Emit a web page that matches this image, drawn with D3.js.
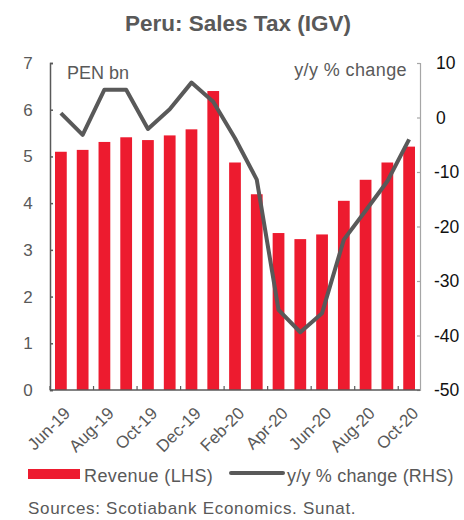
<!DOCTYPE html>
<html>
<head>
<meta charset="utf-8">
<script src="https://cdn.jsdelivr.net/npm/d3@7"></script>
<style>
  body { margin: 0; background: #fff; }
  text { font-family: "Liberation Sans", Arial, sans-serif; }
</style>
</head>
<body>
<script>
var months = ["Jun-19","Jul-19","Aug-19","Sep-19","Oct-19","Nov-19","Dec-19","Jan-20",
  "Feb-20","Mar-20","Apr-20","May-20","Jun-20","Jul-20","Aug-20","Sep-20","Oct-20"];
var revenue = [5.10, 5.14, 5.31, 5.41, 5.35, 5.45, 5.58, 6.40, 4.87, 4.19, 3.36, 3.23, 3.33, 4.05, 4.50, 4.87, 5.21];
var yoy = [0.8, -3.2, 5.1, 5.1, -2.1, 1.5, 6.4, 2.9, -3.8, -11.4, -35.3, -39.4, -35.9, -22.4, -17.1, -11.7, -4.0];
var leftTicks = [0, 1, 2, 3, 4, 5, 6, 7];
var rightTicks = [10, 0, -10, -20, -30, -40, -50];

var svgW = 464, svgH = 520;
var plot = { left: 50, right: 420, top: 63, bottom: 390 };

var red = "#ed1b2f", grey = "#595959";

var svg = d3.select("body").append("svg")
  .attr("width", svgW)
  .attr("height", svgH);

// title
svg.append("text")
  .attr("x", 238).attr("y", 31)
  .attr("text-anchor", "middle")
  .attr("font-size", 22.5).attr("font-weight", "bold")
  .attr("fill", grey)
  .text("Peru: Sales Tax (IGV)");

var x = d3.scaleBand()
  .domain(months)
  .range([plot.left, plot.right])
  .paddingInner(0.46).paddingOuter(0.23);

var yL = d3.scaleLinear().domain([0, 7]).range([plot.bottom, plot.top]);
var yR = d3.scaleLinear().domain([-50, 10]).range([plot.bottom, plot.top]);

// bars
svg.selectAll("rect.bar")
  .data(revenue)
  .enter().append("rect")
  .attr("class", "bar")
  .attr("x", function (d, i) { return x(months[i]); })
  .attr("y", function (d) { return yL(d); })
  .attr("width", x.bandwidth())
  .attr("height", function (d) { return yL(0) - yL(d); })
  .attr("fill", red);

// line
var line = d3.line()
  .x(function (d, i) { return x(months[i]) + x.bandwidth() / 2; })
  .y(function (d) { return yR(d); });

svg.append("path")
  .datum(yoy)
  .attr("d", line)
  .attr("fill", "none")
  .attr("stroke", grey)
  .attr("stroke-width", 4)
  .attr("stroke-linejoin", "round");

var plain = function (d) { return String(d); };

// left axis
var leftAxis = svg.append("g")
  .attr("transform", "translate(" + plot.left + ",0)")
  .call(d3.axisRight(yL).tickValues(leftTicks).tickSize(3).tickFormat(plain));
leftAxis.select(".domain").attr("stroke", grey).attr("stroke-width", 1.5);
leftAxis.selectAll(".tick line").attr("stroke", grey).attr("stroke-width", 1.5);
leftAxis.selectAll(".tick text")
  .attr("x", -22).attr("text-anchor", "middle")
  .attr("font-size", 17).attr("fill", grey);

// right axis
var rightAxis = svg.append("g")
  .attr("transform", "translate(" + plot.right + ",0)")
  .call(d3.axisLeft(yR).tickValues(rightTicks).tickSize(3).tickFormat(plain));
rightAxis.select(".domain").attr("stroke", "#a6a6a6").attr("stroke-width", 1.2);
rightAxis.selectAll(".tick line").attr("stroke", "#a6a6a6").attr("stroke-width", 1.2);
rightAxis.selectAll(".tick text")
  .attr("x", function (d) { return d < 0 ? 14 : 16; })
  .attr("text-anchor", "start")
  .attr("font-size", 17.5).attr("fill", "#111");

// bottom axis: ticks every two months at band boundaries, labels at odd months
var step = x.step();
var tickPos = d3.range(0, months.length + 1, 2).map(function (i) { return plot.left + i * step; });
var bottom = svg.append("g");
bottom.append("line")
  .attr("x1", plot.left).attr("x2", plot.right)
  .attr("y1", plot.bottom).attr("y2", plot.bottom)
  .attr("stroke", grey).attr("stroke-width", 1.5);
bottom.selectAll("line.tk")
  .data(tickPos)
  .enter().append("line")
  .attr("class", "tk")
  .attr("x1", function (d) { return d; }).attr("x2", function (d) { return d; })
  .attr("y1", plot.bottom).attr("y2", plot.bottom - 4)
  .attr("stroke", grey).attr("stroke-width", 1.2);
bottom.selectAll("text")
  .data(months.filter(function (d, i) { return i % 2 === 0; }))
  .enter().append("text")
  .attr("transform", function (d) {
    return "translate(" + (x(d) + x.bandwidth() / 2 + 2) + "," + (plot.bottom + 16) + ") rotate(-45)";
  })
  .attr("text-anchor", "end")
  .attr("dy", "0.7em")
  .attr("font-size", 17)
  .attr("fill", grey)
  .text(function (d) { return d; });

// axis captions
svg.append("text")
  .attr("x", 67).attr("y", 79)
  .attr("font-size", 18).attr("fill", grey)
  .text("PEN bn");
svg.append("text")
  .attr("x", 407).attr("y", 76)
  .attr("text-anchor", "end")
  .attr("font-size", 18).attr("letter-spacing", 0.4).attr("fill", grey)
  .text("y/y % change");

// legend
var legend = svg.append("g");
legend.append("rect")
  .attr("x", 28).attr("y", 469).attr("width", 52).attr("height", 10)
  .attr("fill", red);
legend.append("text")
  .attr("x", 84).attr("y", 482)
  .attr("font-size", 18).attr("letter-spacing", 0.4).attr("fill", grey)
  .text("Revenue (LHS)");
legend.append("line")
  .attr("x1", 231).attr("x2", 283).attr("y1", 473).attr("y2", 473)
  .attr("stroke", grey).attr("stroke-width", 4).attr("stroke-linecap", "round");
legend.append("text")
  .attr("x", 287).attr("y", 482)
  .attr("font-size", 18).attr("letter-spacing", 0.2).attr("fill", grey)
  .text("y/y % change (RHS)");

// source
svg.append("text")
  .attr("x", 28).attr("y", 514)
  .attr("font-size", 17).attr("letter-spacing", 0.7).attr("fill", grey)
  .text("Sources: Scotiabank Economics. Sunat.");
</script>
</body>
</html>
